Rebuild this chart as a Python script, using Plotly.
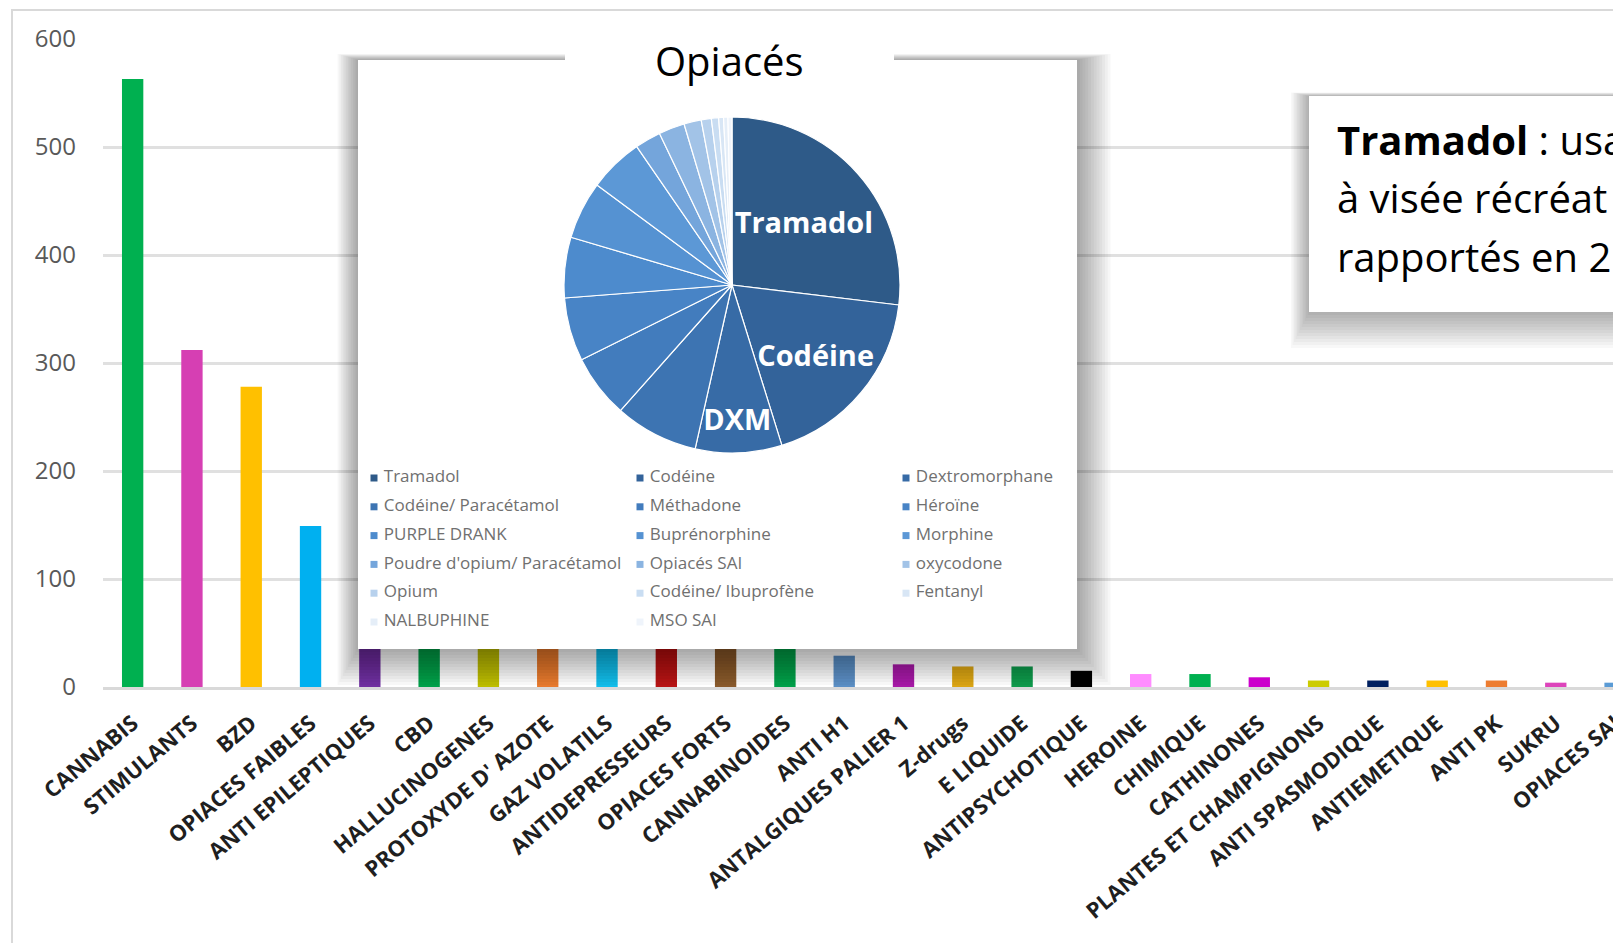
import plotly.graph_objects as go

OFF = 8                      # page body margin of the browser
W, H = 1621 - OFF, 943 - OFF

# ---------------- data ----------------
categories = ["CANNABIS", "STIMULANTS", "BZD", "OPIACES FAIBLES", "ANTI EPILEPTIQUES",
              "CBD", "HALLUCINOGENES", "PROTOXYDE D' AZOTE", "GAZ VOLATILS",
              "ANTIDEPRESSEURS", "OPIACES FORTS", "CANNABINOIDES", "ANTI H1",
              "ANTALGIQUES PALIER 1", "Z-drugs", "E LIQUIDE", "ANTIPSYCHOTIQUE",
              "HEROINE", "CHIMIQUE", "CATHINONES", "PLANTES ET CHAMPIGNONS",
              "ANTI SPASMODIQUE", "ANTIEMETIQUE", "ANTI PK", "SUKRU", "OPIACES SAI"]
values = [563, 312, 278, 149, 75, 66, 58, 52, 47, 43, 40, 37, 29, 21, 19, 19, 15,
          12, 12, 9, 6, 6, 6, 6, 4, 4]
bar_colors = ["#00B050", "#D63FB3", "#FFC000", "#00B0F0", "#7030A0", "#00A04A",
              "#BDBD00", "#E87A2E", "#12BDEB", "#B81414", "#8A5A2C", "#00A04A",
              "#5B8FC5", "#A719A7", "#DBA514", "#0F9A4C", "#000000", "#FF8CFF",
              "#00B050", "#CC00CC", "#CCCC00", "#002060", "#FFC000", "#ED7D31",
              "#DD44BB", "#5B9BD5"]
y_ticks = [0, 100, 200, 300, 400, 500, 600]

pie_labels = ["Tramadol", "Codéine", "Dextromorphane", "Codéine/ Paracétamol",
              "Méthadone", "Héroïne", "PURPLE DRANK", "Buprénorphine", "Morphine",
              "Poudre d'opium/ Paracétamol", "Opiacés SAI", "oxycodone", "Opium",
              "Codéine/ Ibuprofène", "Fentanyl", "NALBUPHINE", "MSO SAI"]
pie_values = [97, 66, 30, 29, 22, 22, 21, 20, 19, 9, 9, 6, 3.5, 2.5, 1.7, 1.5, 1.4]
pie_text = ["Tramadol", "Codéine", "DXM"] + [""] * 14
pie_colors = ["#2E5A88", "#33639A", "#376BA6", "#3D74B2", "#427CBD", "#4884C6",
              "#4D8BCD", "#5592D2", "#5C98D6", "#74A5DB", "#8BB4E1", "#A2C3E7",
              "#B7D1ED", "#C9DDF2", "#D8E6F5", "#E5EEF8", "#EFF4FB"]

title_inset = "Opiacés"
note_lines = ["<b>Tramadol</b> : usa", "à visée récréat", "rapportés en 2"]

# ---------------- helpers (layout only, window pixel -> paper) ----------------
def px(x):
    return (x - OFF) / W

def py(y):
    return 1 - (y - OFF) / H

# inset (pie) box subplot x2/y2 : units = legend grid columns / rows
LEG_X0, LEG_DX = 374.0, 266.0
LEG_Y0, LEG_DY = 478.0, 28.8
IN_L, IN_R, IN_T, IN_B = 318.0, 1122.0, 22.0, 702.0

def ux(x):
    return (x - LEG_X0) / LEG_DX

def uy(y):
    return (y - LEG_Y0) / LEG_DY

fig = go.Figure()

fig.add_trace(go.Bar(
    x=categories, y=values, marker=dict(color=bar_colors, line=dict(width=0)),
    width=0.36, hoverinfo="x+y", showlegend=False,
))

# legend grid of the pie (3 columns)
fig.add_trace(go.Scatter(
    x=[i % 3 for i in range(len(pie_labels))],
    y=[i // 3 for i in range(len(pie_labels))],
    mode="markers+text",
    marker=dict(symbol="square", size=7, color=pie_colors),
    text=[" " + t for t in pie_labels], textposition="middle right",
    textfont=dict(family="Open Sans", size=17, color="#707070"),
    xaxis="x2", yaxis="y2", hoverinfo="skip", showlegend=False,
))

PCX, PCY, PR = 732.0, 285.0, 168.0
fig.add_trace(go.Pie(
    labels=pie_labels, values=pie_values, text=pie_text,
    textinfo="text", textposition="inside", insidetextorientation="horizontal",
    textfont=dict(family="Open Sans", size=29, color="white", weight="bold"),
    marker=dict(colors=pie_colors, line=dict(color="white", width=1.2)),
    sort=False, direction="clockwise", rotation=0, showlegend=False,
    domain=dict(x=[px(PCX - PR), px(PCX + PR)], y=[py(PCY + PR), py(PCY - PR)]),
    hoverinfo="label+value",
))

shapes = []
# outer chart border
shapes.append(dict(type="rect", xref="paper", yref="paper", layer="below",
                   x0=px(12), x1=1.05, y0=py(10), y1=-0.1,
                   line=dict(color="#d9d9d9", width=2), fillcolor="rgba(0,0,0,0)"))

# inset box shadow + box (drawn in x2y2, above the bars, below the pie)
BX0, BY0, BX1, BY1 = 358.0, 60.0, 1077.0, 649.0
for k in range(1, 13):
    shapes.append(dict(type="rect", xref="x2", yref="y2", layer="below",
                       x0=ux(BX0 - 1.7 * k), x1=ux(BX1 + 2.8 * k),
                       y0=uy(BY0 - 0.5 * k), y1=uy(BY1 + 3.0 * k),
                       line=dict(width=0), fillcolor="rgba(0,0,0,0.03)"))
shapes.append(dict(type="rect", xref="x2", yref="y2", layer="below",
                   x0=ux(BX0), x1=ux(BX1), y0=uy(BY0), y1=uy(BY1),
                   line=dict(width=0), fillcolor="white"))
# title box
shapes.append(dict(type="rect", xref="x2", yref="y2", layer="below",
                   x0=ux(565), x1=ux(894), y0=uy(31), y1=uy(95),
                   line=dict(width=0), fillcolor="white"))

# note box shadow + box
NX0, NY0, NX1, NY1 = 1309.0, 96.0, 1700.0, 312.0
for k in range(1, 13):
    shapes.append(dict(type="rect", xref="paper", yref="paper", layer="above",
                       x0=px(NX0 - 1.5 * k), x1=px(NX1), y0=py(NY0 - 0.3 * k),
                       y1=py(NY1 + 3.0 * k),
                       line=dict(width=0), fillcolor="rgba(0,0,0,0.026)"))
shapes.append(dict(type="rect", xref="paper", yref="paper", layer="above",
                   x0=px(NX0), x1=px(NX1), y0=py(NY0), y1=py(NY1),
                   line=dict(width=0), fillcolor="white"))

annotations = [
    dict(text=title_inset, xref="paper", yref="paper", x=px(729), y=py(60),
         xanchor="center", yanchor="middle", showarrow=False,
         font=dict(family="Open Sans", size=40, color="black")),
]
for i, (line, base) in enumerate(zip(note_lines, [155, 212, 271])):
    annotations.append(dict(text=line, xref="paper", yref="paper",
                            x=px(1335), y=py(base - 15), xanchor="left", yanchor="middle",
                            showarrow=False,
                            font=dict(family="Open Sans", size=40, color="black")))

fig.update_layout(
    width=W, height=H, margin=dict(l=0, r=0, t=0, b=0),
    paper_bgcolor="white", plot_bgcolor="rgba(0,0,0,0)",
    template="none", showlegend=False,
    uniformtext=dict(minsize=28, mode="show"),
    xaxis=dict(domain=[px(103), 1.0], range=[-0.5, 25.1], type="category",
               categoryorder="array", categoryarray=categories,
               tickangle=-40, showgrid=False, zeroline=False,
               showline=True, linecolor="#d9d9d9", linewidth=3, ticks="",
               ticklabelstandoff=12, automargin=False,
               tickfont=dict(family="Open Sans", size=22, color="#1f1f1f", weight="bold")),
    yaxis=dict(domain=[py(687), py(39)], range=[0, 600], tickvals=y_ticks,
               showgrid=True, gridcolor="#e0e0e0", gridwidth=3, zeroline=False,
               showline=False, ticks="", ticklabelstandoff=26, automargin=False,
               tickfont=dict(family="Open Sans", size=24, color="#595959")),
    xaxis2=dict(domain=[px(IN_L), px(IN_R)], range=[ux(IN_L), ux(IN_R)],
                visible=False, showgrid=False, zeroline=False, fixedrange=True,
                automargin=False, anchor="y2"),
    yaxis2=dict(domain=[py(IN_B), py(IN_T)], range=[uy(IN_B), uy(IN_T)],
                visible=False, showgrid=False, zeroline=False, fixedrange=True,
                automargin=False, anchor="x2"),
    shapes=shapes, annotations=annotations,
    font=dict(family="Open Sans"),
)

fig.write_html("out.html")
